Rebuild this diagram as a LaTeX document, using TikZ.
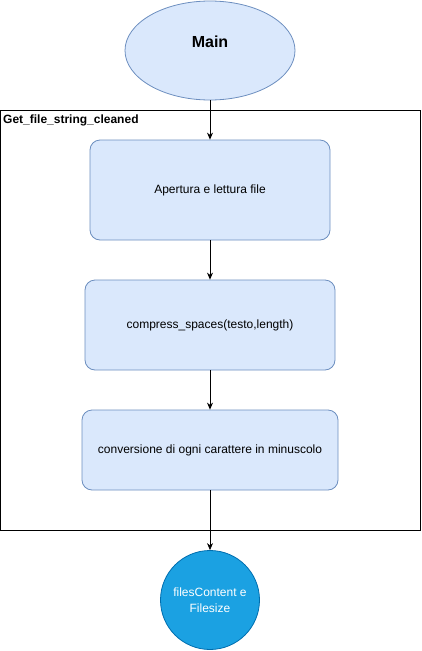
\documentclass[tikz,border=0pt]{standalone}
\usepackage{fontspec}
\setmainfont{Liberation Sans}
\usetikzlibrary{shapes.geometric,arrows.meta}
\definecolor{boxfill}{HTML}{DAE8FC}
\definecolor{boxline}{HTML}{6C8EBF}
\definecolor{endfill}{HTML}{1BA1E2}
\definecolor{endline}{HTML}{006EAF}
\begin{document}
\begin{tikzpicture}[x=1pt,y=-1pt,
  stepbox/.style={draw=boxline,fill=boxfill,rounded corners=10pt,line width=0.8pt,font=\fontsize{12}{14}\selectfont,inner sep=0pt},
  arr/.style={-{Stealth[length=7pt,width=6pt]},line width=0.8pt,black},
]
\useasboundingbox (0,0) rectangle (421,651);
\node[draw=black,line width=0.8pt,minimum width=420pt,minimum height=420pt,inner sep=0pt] (cont) at (210,320) {};
\node[anchor=west,font=\bfseries\fontsize{12}{14}\selectfont,inner sep=0pt] (lab) at (3,120.5) {Get\_file\_string\_cleaned};
\node[ellipse,draw=boxline,fill=boxfill,line width=0.8pt,minimum width=170pt,minimum height=99pt,inner sep=0pt] (main) at (210,50.5) {};
\node[font=\bfseries\fontsize{16}{18}\selectfont,inner sep=0pt] (maintext) at (210,42) {Main};
\node[stepbox,minimum width=240pt,minimum height=100pt] (b1) at (210,190) {Apertura e lettura file};
\node[stepbox,minimum width=250pt,minimum height=90pt] (b2) at (210,325) {compress\_spaces(testo,length)};
\node[stepbox,minimum width=256pt,minimum height=80pt] (b3) at (210,450) {conversione di ogni carattere in minuscolo};
\node[circle,draw=endline,fill=endfill,line width=0.8pt,minimum size=99pt,inner sep=0pt,text=white,align=center,font=\fontsize{12}{15.5}\selectfont] (end) at (210,600) {filesContent e\\Filesize};
\draw[arr] (main) -- (b1);
\draw[arr] (b1) -- (b2);
\draw[arr] (b2) -- (b3);
\draw[arr] (b3) -- (end);
\end{tikzpicture}
\end{document}
